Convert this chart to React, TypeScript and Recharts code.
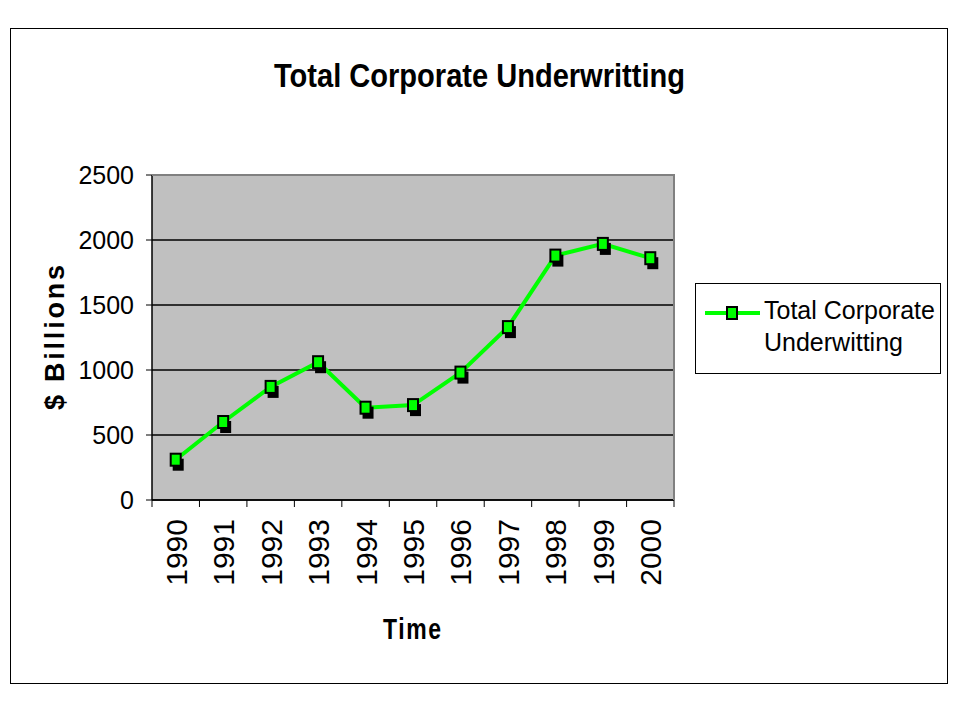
import { CartesianGrid, Line, LineChart, XAxis, YAxis } from "recharts";

const years = ["1990", "1991", "1992", "1993", "1994", "1995", "1996", "1997", "1998", "1999", "2000"];
const underwriting = [310, 600, 870, 1060, 710, 730, 980, 1330, 1880, 1970, 1860];
const yTicks = [0, 500, 1000, 1500, 2000, 2500];

const seriesName = "Total Corporate Underwritting";
const data = years.map((year, i) => ({ year, value: underwriting[i] }));

const FONT = "'Liberation Sans', Arial, sans-serif";
const GREEN = "#00ff00";
const HALF_BAND = 23.7;

const Marker = ({ cx, cy }: any) => {
  if (cx == null || cy == null) return null;
  return (
    <g>
      <rect x={cx - 3} y={cy - 1} width={11} height={12} fill="#000" />
      <rect x={cx - 5} y={cy - 6} width={10} height={12} fill={GREEN} stroke="#000" strokeWidth={2} />
    </g>
  );
};

const YearTick = ({ x, y, payload, index }: any) => {
  const last = index === years.length - 1;
  return (
    <g>
      <line x1={x - HALF_BAND} x2={x - HALF_BAND} y1={y} y2={y + 7} stroke="#000" />
      {last && <line x1={x + HALF_BAND} x2={x + HALF_BAND} y1={y} y2={y + 7} stroke="#000" />}
      <text
        x={0}
        y={0}
        transform={`translate(${x + 11}, ${y + 19}) rotate(-90)`}
        textAnchor="end"
        fontFamily={FONT}
        fontSize={30}
        fill="#000"
      >
        {payload.value}
      </text>
    </g>
  );
};

const LegendBox = () => (
  <div
    style={{
      position: "absolute",
      left: 695,
      top: 283,
      width: 244,
      height: 89,
      border: "1px solid #000",
      background: "#fff",
      fontFamily: FONT,
      fontSize: 25,
      color: "#000",
    }}
  >
    <svg width={60} height={30} style={{ position: "absolute", left: 9, top: 14 }}>
      <line x1={0} x2={55} y1={15} y2={15} stroke={GREEN} strokeWidth={4} />
      <rect x={22} y={9} width={10} height={12} fill={GREEN} stroke="#000" strokeWidth={2} />
    </svg>
    <div style={{ position: "absolute", left: 68, top: 10, lineHeight: "32px" }}>
      Total Corporate
      <br />
      Underwitting
    </div>
  </div>
);

export default function App() {
  return (
    <div style={{ position: "absolute", left: 0, top: 0, width: 960, height: 720, background: "#fff" }}>
      <LineChart
        width={960}
        height={720}
        data={data}
        margin={{ top: 175, right: 286, bottom: 120, left: 92 }}
      >
        <CartesianGrid vertical={false} stroke="#000" strokeWidth={1.3} fill="#c0c0c0" fillOpacity={1} />
        <XAxis
          dataKey="year"
          height={100}
          padding={{ left: HALF_BAND, right: HALF_BAND }}
          axisLine={{ stroke: "#000", strokeWidth: 1.5 }}
          tickLine={false}
          tickSize={0}
          tickMargin={0}
          interval={0}
          tick={<YearTick />}
        />
        <YAxis
          width={60}
          domain={[0, 2500]}
          ticks={yTicks}
          interval={0}
          axisLine={{ stroke: "#000", strokeWidth: 1.5 }}
          tickLine={{ stroke: "#000" }}
          tickSize={6}
          tickMargin={12}
          tick={{ fill: "#000", fontSize: 25, fontFamily: FONT }}
        />
        <Line
          name={seriesName}
          dataKey="value"
          type="linear"
          stroke={GREEN}
          strokeWidth={4}
          dot={<Marker />}
          activeDot={false}
          isAnimationActive={false}
        />
      </LineChart>
      <LegendBox />
      <svg
        width={960}
        height={720}
        style={{ position: "absolute", left: 0, top: 0, pointerEvents: "none" }}
      >
        <rect x={10.5} y={28.5} width={937} height={655} fill="none" stroke="#000" strokeWidth={1} />
        <line x1={152} x2={675} y1={175} y2={175} stroke="#808080" strokeWidth={2} />
        <line x1={674} x2={674} y1={174} y2={500} stroke="#808080" strokeWidth={2} />
        <text
          x={274}
          y={87}
          textLength={411}
          lengthAdjust="spacingAndGlyphs"
          fontFamily={FONT}
          fontWeight="bold"
          fontSize={34}
          fill="#000"
        >
          Total Corporate Underwritting
        </text>
        <text
          transform="translate(383, 639) scale(1, 1.25)"
          textLength={58}
          lengthAdjust="spacing"
          fontFamily={FONT}
          fontWeight="bold"
          fontSize={23}
          fill="#000"
        >
          Time
        </text>
        <text
          transform="translate(64, 410) rotate(-90)"
          textLength={145}
          lengthAdjust="spacing"
          fontFamily={FONT}
          fontWeight="bold"
          fontSize={27}
          fill="#000"
        >
          $ Billions
        </text>
      </svg>
    </div>
  );
}
